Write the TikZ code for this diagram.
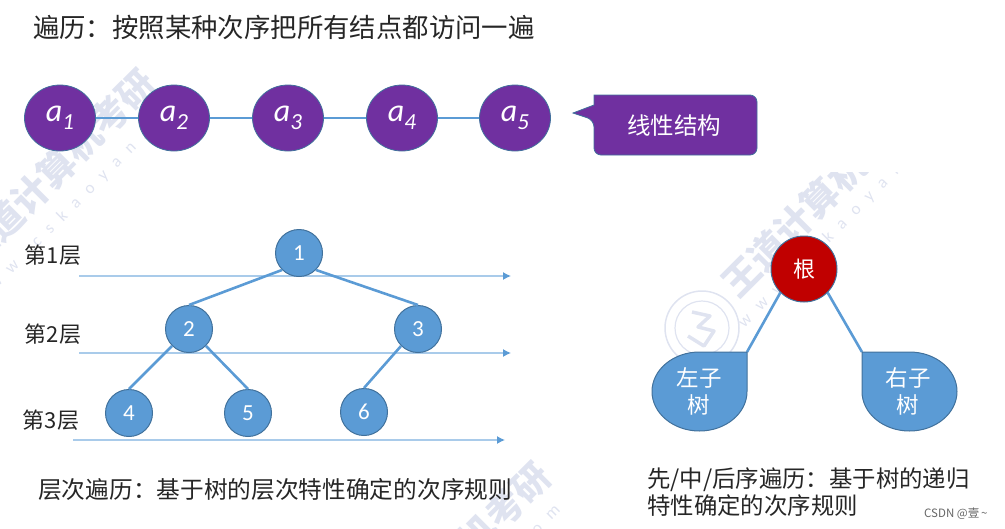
\documentclass[tikz,border=0pt]{standalone}
\usepackage{fontspec}
\setmainfont{Noto Sans CJK SC}
\newfontfamily\latinf{Carlito}
\usetikzlibrary{arrows.meta,shapes.geometric}
\definecolor{bluefill}{HTML}{5B9BD5}
\definecolor{blueedge}{HTML}{41719C}
\definecolor{lvl}{HTML}{A9CBEA}
\definecolor{purp}{HTML}{7030A0}
\definecolor{redr}{HTML}{C00000}
\definecolor{txt}{HTML}{262626}
\definecolor{wmcol}{HTML}{DFE3F0}
\tikzset{
  x=1pt,y=-1pt,
  lnode/.style={ellipse,draw=blueedge,line width=.8pt,fill=purp,text=white,minimum width=71pt,minimum height=66pt,inner sep=0pt,font=\latinf\fontsize{32}{32}\selectfont\itshape},
  tnode/.style={circle,draw=blueedge,line width=1pt,fill=bluefill,text=white,minimum size=47pt,inner sep=0pt,font=\latinf\fontsize{23}{23}\selectfont},
  lab/.style={text=txt,inner sep=0pt,font=\fontsize{#1}{#1}\selectfont},
  blink/.style={draw=bluefill,line width=2.6pt},
  levelline/.style={draw=lvl,line width=1.2pt,-{Latex[length=8pt,width=8pt,color=bluefill]}},
  wmk/.style={text=wmcol,inner sep=0pt,rotate=45,font=\bfseries\fontsize{37}{37}\selectfont},
  wmu/.style={text=wmcol,inner sep=0pt,rotate=45,font=\latinf\fontsize{17}{17}\selectfont\addfontfeature{LetterSpace=65}},
  drop/.style={draw=blueedge,line width=1pt,fill=bluefill},
  dropt/.style={text=white,inner sep=0pt,align=center,font=\fontsize{22.5}{27}\selectfont},
}
\begin{document}
\begin{tikzpicture}
\useasboundingbox (0,0) rectangle (1005,528);
% watermarks
\node[wmk] (w1) at (57,168) {王道计算机考研};
\node[wmu] (w4) at (82,197) {www.cskaoyan.com};
\begin{scope}
\clip (640,172) rectangle (960,400);
\node[wmk] (w2) at (820,198) {王道计算机考研};
\node[wmu] (w5) at (848,218) {www.cskaoyan.com};
\end{scope}
\node[wmk] (w3) at (452,561) {王道计算机考研};
\node[wmu] (w6) at (451,615) {www.cskaoyan.com};
\draw[wmcol,line width=1.5pt] (702,328) circle (37);
\draw[wmcol,line width=1.2pt] (702,328) circle (27);
\draw[wmcol,line width=3.5pt,line join=round] (692,312) -- (710,316) -- (698,327) -- (714,331) -- (704,346) -- (688,336);
% title
\node[lab=26.4,anchor=west] (title) at (33,27) {遍历：按照某种次序把所有结点都访问一遍};
% linear
\foreach \i/\x in {1/60,2/174,3/288,4/402,5/515}{
  \coordinate (c\i) at (\x,118);
}
\draw[blink] (c1) -- (c2) -- (c3) -- (c4) -- (c5);
\foreach \i in {1,...,5}{
  \node[lnode] (a\i) at (c\i) {a\raisebox{-.25em}{\fontsize{23}{23}\selectfont\i}};
}
% callout
\draw[draw=blueedge,line width=.8pt,fill=purp,rounded corners=7pt]
  (594,95) -- (757,95) -- (757,155) -- (594,155) -- (594,120) [sharp corners] -- (573,113) -- (594,105) -- cycle;
\node[text=white,inner sep=0pt,font=\fontsize{23.5}{23.5}\selectfont] (callout) at (674,126) {线性结构};
% tree
\draw[levelline] (79,276) -- (511,276);
\draw[levelline] (79,353) -- (511,353);
\draw[levelline] (73,440) -- (505,440);
\node[tnode] (n1) at (299,253) {1};
\node[tnode] (n2) at (189,329) {2};
\node[tnode] (n3) at (418,329) {3};
\node[tnode] (n4) at (129,413) {4};
\node[tnode] (n5) at (248,413) {5};
\node[tnode] (n6) at (364,412) {6};
\draw[blink] (n1.225) -- (n2.north);
\draw[blink] (n1.-45) -- (n3.north);
\draw[blink] (n2.225) -- (n4.north);
\draw[blink] (n2.-45) -- (n5.north);
\draw[blink] (n3.225) -- (n6.north);
\node[lab=22] (l1) at (53,255) {第1层};
\node[lab=22] (l2) at (53,334) {第2层};
\node[lab=22] (l3) at (51,420) {第3层};
\node[lab=23.7,anchor=west] (cap1) at (38,490) {层次遍历：基于树的层次特性确定的次序规则};
% right
\coordinate (lc) at (747,352);
\coordinate (rc) at (862,352);
\node[circle,draw=blueedge,line width=1pt,fill=redr,text=white,minimum size=66pt,inner sep=0pt,font=\fontsize{22}{22}\selectfont] (root) at (804,269) {根};
\draw[blink] (root.225) -- (lc);
\draw[blink] (root.-45) -- (rc);
\draw[drop] (lc) -- (747,391.5) .. controls (747,413.3) and (725.7,431) .. (699.5,431) .. controls (673.3,431) and (652,413.3) .. (652,391.5) .. controls (652,369.7) and (673.3,352) .. (699.5,352) -- cycle;
\draw[drop] (rc) -- (862,391.5) .. controls (862,413.3) and (883.3,431) .. (909.5,431) .. controls (935.7,431) and (957,413.3) .. (957,391.5) .. controls (957,369.7) and (935.7,352) .. (909.5,352) -- cycle;
\node[dropt] (lt) at (699,391) {左子\\树};
\node[dropt] (rt) at (908,391) {右子\\树};
\node[lab=23.4,anchor=west] (cap2) at (647,480) {先/中/后序遍历：基于树的递归};
\node[lab=23.4,anchor=west] (cap3) at (647,506) {特性确定的次序规则};
\node[inner sep=0pt,text=black!60,anchor=west,font=\fontsize{11.5}{12}\selectfont] (csdn) at (924,514) {CSDN @壹\,\textasciitilde};
\end{tikzpicture}
\end{document}
